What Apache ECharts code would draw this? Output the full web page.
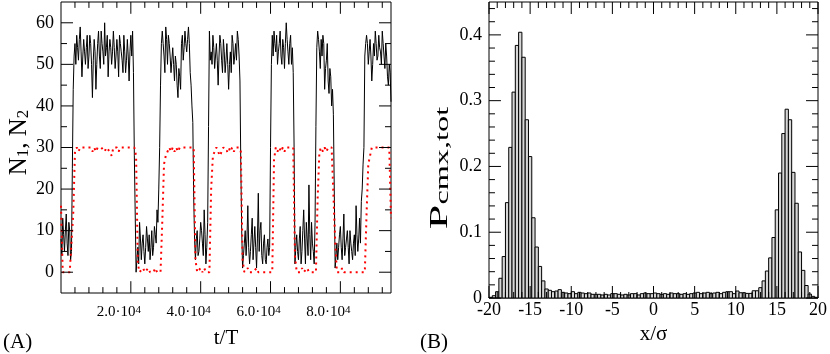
<!DOCTYPE html>
<html>
<head>
<meta charset="utf-8">
<script src="https://cdn.jsdelivr.net/npm/echarts@6/dist/echarts.min.js"></script>
<style>
  html, body { margin: 0; padding: 0; background: #fff; }
  #chart { width: 830px; height: 354px; }
</style>
</head>
<body>
<div id="chart"></div>
<script>
// (A) N1 sampled every n1Step, N2 every n2Step
var n1Step = 250;
var n1 = [8, 4, 13, 9, 5, 10, 14, 7, 4, 12, 10, 3, 5, 25, 44, 52, 55, 50, 57, 54,
  51, 56, 59, 53, 47, 52, 56, 53, 50, 54, 57, 49, 52, 57, 55, 50, 42, 51, 56, 53,
  44, 50, 55, 58, 52, 49, 58, 55, 53, 50, 60, 52, 54, 57, 47, 53, 56, 54, 50, 53,
  58, 54, 49, 52, 56, 53, 47, 57, 55, 53, 51, 48, 57, 53, 48, 51, 56, 52, 46, 53,
  57, 52, 58, 48, 28, 14, 0, 3, 6, 2, 12, 8, 3, 7, 9, 5, 2, 6, 11, 8,
  5, 9, 3, 6, 10, 4, 6, 11, 9, 7, 15, 12, 20, 30, 45, 55, 58, 55, 52, 48,
  59, 56, 50, 57, 55, 52, 48, 51, 54, 50, 46, 52, 50, 45, 42, 49, 47, 44, 55, 57,
  51, 54, 58, 55, 53, 56, 59, 55, 48, 45, 40, 36, 18, 8, 3, 8, 10, 4, 5, 8,
  12, 10, 7, 4, 15, 9, 2, 6, 12, 35, 58, 51, 53, 50, 57, 54, 49, 52, 55, 51,
  45, 52, 57, 55, 51, 48, 56, 53, 48, 51, 55, 50, 44, 50, 53, 48, 57, 55, 50, 52,
  55, 51, 58, 56, 52, 46, 25, 10, 1, 4, 7, 10, 4, 8, 16, 6, 2, 5, 9, 13,
  3, 7, 11, 6, 1, 8, 19, 5, 10, 12, 4, 2, 7, 9, 3, 2, 6, 8, 4, 6,
  30, 50, 57, 52, 58, 55, 53, 57, 50, 53, 55, 58, 52, 50, 56, 54, 49, 55, 60, 56,
  53, 50, 55, 57, 50, 54, 48, 30, 2, 6, 9, 5, 3, 8, 11, 2, 5, 10, 15, 8,
  2, 12, 8, 4, 21, 9, 3, 12, 7, 5, 2, 12, 35, 54, 58, 56, 53, 49, 56, 52,
  57, 55, 44, 49, 51, 55, 46, 43, 49, 47, 40, 44, 38, 20, 1, 4, 7, 3, 6, 9,
  11, 6, 3, 8, 14, 4, 6, 8, 10, 6, 2, 10, 7, 5, 3, 7, 9, 4, 16, 9,
  5, 8, 13, 7, 17, 20, 26, 30, 52, 55, 57, 55, 50, 53, 56, 52, 46, 50, 55, 52,
  58, 55, 51, 52, 57, 54, 53, 50, 58, 55, 52, 49, 55, 52, 47, 45, 50, 48, 41];
var n2Step = 500;
var n2 = [16, 0, 0, 0, 0, 0, 0, 14, 29, 30,
  29, 30, 30, 30, 30, 30, 30, 30, 29, 30,
  29, 30, 30, 30, 30, 29, 30, 30, 29, 28,
  30, 30, 30, 29, 30, 30, 30, 30, 30, 30,
  30, 30, 30, 28, 2, 0, 0, 1, 0, 0,
  1, 0, 0, 0, 1, 0, 0, 0, 12, 26,
  28, 29, 30, 29, 30, 29, 30, 29, 30, 30,
  30, 30, 30, 30, 30, 30, 30, 3, 0, 0,
  1, 0, 1, 0, 0, 0, 20, 28, 29, 30,
  30, 28, 29, 30, 30, 29, 30, 29, 30, 29,
  30, 30, 30, 29, 3, 0, 0, 1, 0, 0,
  0, 0, 1, 0, 0, 0, 0, 0, 0, 0,
  0, 0, 27, 30, 29, 30, 29, 30, 29, 30,
  30, 30, 30, 30, 4, 0, 0, 0, 1, 0,
  0, 1, 0, 0, 0, 0, 0, 18, 29, 30,
  29, 30, 29, 30, 30, 30, 30, 8, 0, 0,
  0, 1, 0, 0, 0, 0, 0, 0, 0, 0,
  0, 0, 0, 0, 0, 14, 26, 28, 30, 30,
  30, 30, 30, 30, 30, 30, 30, 30, 30, 13];

// (B) histogram, bins of binWidth starting at binStart
var binStart = -20;
var binWidth = 0.4;
var pcmx = [0.001, 0.0035, 0.0096, 0.030, 0.063, 0.145, 0.229, 0.313, 0.384, 0.404,
  0.366, 0.271, 0.215, 0.122, 0.0775, 0.048, 0.026, 0.0137, 0.0117, 0.0096,
  0.0106, 0.0127, 0.0086, 0.0076, 0.0066, 0.0096, 0.0066, 0.0086, 0.0076, 0.0066,
  0.0076, 0.0056, 0.0056, 0.0056, 0.0046, 0.0056, 0.0046, 0.0066, 0.0066, 0.0056,
  0.0046, 0.0056, 0.0046, 0.0066, 0.0066, 0.0046, 0.0066, 0.0076, 0.0066, 0.0066,
  0.0076, 0.0066, 0.0056, 0.0066, 0.0056, 0.0076, 0.0066, 0.0066, 0.0056, 0.0066,
  0.0056, 0.0066, 0.0076, 0.0086, 0.0066, 0.0076, 0.0086, 0.0066, 0.0076, 0.0086,
  0.0066, 0.0086, 0.0096, 0.0096, 0.0066, 0.0106, 0.008, 0.008, 0.007, 0.007,
  0.011, 0.011, 0.0157, 0.026, 0.041, 0.061, 0.092, 0.134, 0.190, 0.250,
  0.287, 0.271, 0.191, 0.144, 0.070, 0.042, 0.019, 0.006, 0.0025, 0.001];

// axis ranges and tick labels
var xRangeA = [0, 94500], yRangeA = [-5, 65];
var xRangeB = [-20, 20], yRangeB = [0, 0.45];
var xTicksA = [20000, 40000, 60000, 80000];
var yTicksA = [0, 10, 20, 30, 40, 50, 60];
var xTicksB = [-20, -15, -10, -5, 0, 5, 10, 15, 20];
var yTicksB = [0, 0.1, 0.2, 0.3, 0.4];

var gridW = 330, gridH = 296;
var serif = '"Liberation Serif", "Times New Roman", serif';

// minor tick values between from and to, skipping every `every`-th (the majors)
function minors(from, to, step, every) {
  var out = [];
  for (var k = 0; from + k * step <= to + 1e-9; k++) {
    if (k % every !== 0) out.push(+(from + k * step).toFixed(6));
  }
  return out;
}

// inward ticks on all four sides, as one broken line series in data units
function tickLines(idx, xr, yr, xMaj, xMin, yMaj, yMin) {
  var ux = (xr[1] - xr[0]) / gridW, uy = (yr[1] - yr[0]) / gridH;
  var d = [];
  function seg(a, b) { d.push(a, b, ['-', '-']); }
  function xt(vals, len) {
    vals.forEach(function (v) {
      seg([v, yr[0]], [v, yr[0] + len * uy]);
      seg([v, yr[1]], [v, yr[1] - len * uy]);
    });
  }
  function yt(vals, len) {
    vals.forEach(function (v) {
      seg([xr[0], v], [xr[0] + len * ux, v]);
      seg([xr[1], v], [xr[1] - len * ux, v]);
    });
  }
  xt(xMaj, 12); xt(xMin, 6); yt(yMaj, 12); yt(yMin, 6);
  return {
    type: 'line', xAxisIndex: idx, yAxisIndex: idx, data: d, z: 6, silent: true,
    showSymbol: false, connectNulls: false, clip: false,
    lineStyle: { color: '#000', width: 1 }
  };
}

var tickFont = { fontFamily: serif, fontSize: 18, color: '#000' };
var nameFont = { fontFamily: serif, fontSize: 21, color: '#000' };
var bare = {
  axisLine: { show: false }, axisTick: { show: false }, splitLine: { show: false }
};

var option = {
  animation: false,
  backgroundColor: '#fff',
  grid: [
    { left: 61, top: 2, width: gridW, height: gridH, show: true, borderColor: '#000', borderWidth: 1 },
    { left: 489, top: 2, width: gridW, height: gridH, show: true, borderColor: '#000', borderWidth: 1 }
  ],
  xAxis: [
    Object.assign({
      type: 'value', gridIndex: 0, min: xRangeA[0], max: xRangeA[1],
      axisLabel: {
        customValues: xTicksA, margin: 12, padding: [0, 24, 0, 0],
        formatter: function (v) { return '{m|' + (v / 1e4).toFixed(1) + '·10}{e|4}'; },
        rich: {
          m: { fontFamily: serif, fontSize: 15, color: '#000' },
          e: { fontFamily: serif, fontSize: 11, color: '#000', verticalAlign: 'top' }
        }
      },
      name: 't/T', nameLocation: 'middle', nameGap: 35, nameTextStyle: nameFont
    }, bare),
    Object.assign({
      type: 'value', gridIndex: 1, min: xRangeB[0], max: xRangeB[1],
      axisLabel: Object.assign({ customValues: xTicksB, margin: 3 }, tickFont),
      name: 'x/σ', nameLocation: 'middle', nameGap: 15, nameTextStyle: nameFont
    }, bare)
  ],
  yAxis: [
    Object.assign({
      type: 'value', gridIndex: 0, min: yRangeA[0], max: yRangeA[1],
      axisLabel: Object.assign({ customValues: yTicksA, margin: 7 }, tickFont),
      name: '{n|N}{s|1}{n|, N}{s|2}', nameLocation: 'middle', nameGap: 29, nameRotate: 90,
      nameTextStyle: {
        color: '#000', padding: [0, 0, 0, 10],
        rich: {
          n: { fontFamily: serif, fontSize: 25, color: '#000' },
          s: { fontFamily: serif, fontSize: 17, color: '#000', verticalAlign: 'bottom' }
        }
      }
    }, bare),
    Object.assign({
      type: 'value', gridIndex: 1, min: yRangeB[0], max: yRangeB[1],
      axisLabel: Object.assign({ customValues: yTicksB, margin: 7 }, tickFont)
    }, bare)
  ],
  graphic: [
    { type: 'text', left: 3, top: 332, style: { text: '(A)', font: '21px ' + serif, fill: '#000' } },
    { type: 'text', left: 420, top: 332, style: { text: '(B)', font: '21px ' + serif, fill: '#000' } },
    {
      type: 'text', x: 440, y: 168, rotation: Math.PI / 2, scaleX: 1.7,
      style: {
        text: '{n|P}{s|cmx,tot}', align: 'center', verticalAlign: 'middle',
        rich: {
          n: { fontFamily: serif, fontSize: 26, fill: '#000' },
          s: { fontFamily: serif, fontSize: 19, fill: '#000', verticalAlign: 'bottom' }
        }
      }
    }
  ],
  series: [
    {
      name: 'N1', type: 'line', xAxisIndex: 0, yAxisIndex: 0,
      data: n1.map(function (v, i) { return [i * n1Step, v]; }),
      showSymbol: false, lineStyle: { color: '#000', width: 1 }, z: 2
    },
    {
      name: 'N2', type: 'line', xAxisIndex: 0, yAxisIndex: 0,
      data: n2.map(function (v, i) { return [i * n2Step, v]; }),
      showSymbol: false, lineStyle: { color: '#ff0000', width: 2, type: [2, 4] }, z: 3
    },
    {
      name: 'Pcmx', type: 'custom', xAxisIndex: 1, yAxisIndex: 1,
      data: pcmx.map(function (v, i) {
        return [binStart + i * binWidth, binStart + (i + 1) * binWidth, v];
      }),
      encode: { x: [0, 1], y: 2 },
      renderItem: function (params, api) {
        var top = api.coord([api.value(0), api.value(2)]);
        var base = api.coord([api.value(1), 0]);
        return {
          type: 'rect',
          shape: { x: top[0], y: top[1], width: base[0] - top[0], height: base[1] - top[1] },
          style: { fill: '#d6d6d6', stroke: '#000', lineWidth: 1 }
        };
      }
    },
    tickLines(0, xRangeA, yRangeA, xTicksA, minors(0, 92000, 4000, 5), yTicksA, [5, 15, 25, 35, 45, 55]),
    tickLines(1, xRangeB, yRangeB, xTicksB, minors(-20, 20, 1, 5), yTicksB, minors(0, 0.44, 0.02, 5))
  ]
};

var chart = echarts.init(document.getElementById('chart'));
chart.setOption(option);
</script>
</body>
</html>
